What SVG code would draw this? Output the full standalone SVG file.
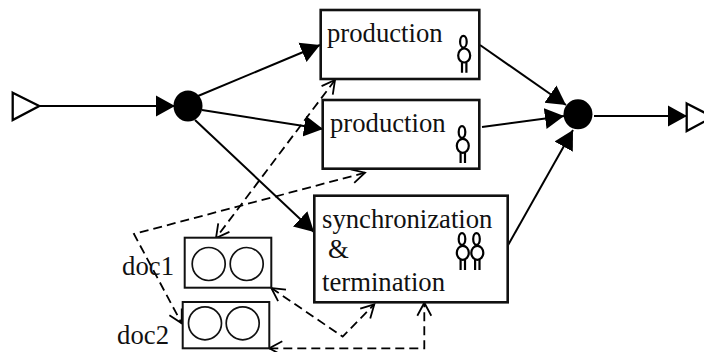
<svg xmlns="http://www.w3.org/2000/svg" width="704" height="352" viewBox="0 0 704 352">
<style>
text{font-family:"Liberation Serif","Times New Roman",serif;font-size:26.7px;fill:#111}
.box{fill:#fff;stroke:#111;stroke-width:2.6}
.doc{fill:#fff;stroke:#111;stroke-width:2}
.ring{fill:none;stroke:#111;stroke-width:1.7}
.dot{fill:#000}
.tri{fill:#fff;stroke:#000;stroke-width:2.3}
.solid{fill:none;stroke:#000;stroke-width:2}
.dash{fill:none;stroke:#000;stroke-width:1.8;stroke-dasharray:9 5;marker-start:url(#open);marker-end:url(#open)}
.p{fill:none;stroke:#000;stroke-width:2.2}
</style>
<defs>
<marker id="fill" markerUnits="userSpaceOnUse" markerWidth="24" markerHeight="24" refX="19" refY="12" orient="auto"><path d="M0 1.500L19 12L0 22.500Z" fill="#000"/></marker>
<marker id="open" markerUnits="userSpaceOnUse" markerWidth="24" markerHeight="24" refX="17" refY="12" orient="auto-start-reverse"><path d="M4 5L17 12L4 19" fill="none" stroke="#000" stroke-width="1.800"/></marker>
<g id="person"><ellipse cx="0" cy="0" rx="3.300" ry="5.800" class="p"/><ellipse cx="0.800" cy="13.800" rx="6" ry="7" class="p"/><path d="M-1.400 21V31M3 21V31" class="p"/></g>
</defs>
<g id="connectors">
<path class="solid" marker-end="url(#fill)" d="M198 96L320 45"/>
<path class="solid" marker-end="url(#fill)" d="M202 110L323 129"/>
<path class="solid" marker-end="url(#fill)" d="M195 120L314 232"/>
<path class="solid" marker-end="url(#fill)" d="M39 106L175 106"/>
<path class="solid" marker-end="url(#fill)" d="M480 45L566 105"/>
<path class="solid" marker-end="url(#fill)" d="M482 127L564 116"/>
<path class="solid" marker-end="url(#fill)" d="M507 247L573 130"/>
<path class="solid" marker-end="url(#fill)" d="M594 116L687 116"/>
<path class="dash" d="M335 80L216 238"/>
<path class="dash" d="M365 172.700L134 234L181.700 323.300"/>
<path class="dash" d="M271.300 288L342.700 336.700L374.300 304.300"/>
<path class="dash" d="M269.300 348.300L424.300 348.300L424.300 302.700"/>
</g>
<g id="start"><path class="tri" d="M12.700 92.700L39.300 106L12.700 120Z"/></g>
<g id="split"><ellipse class="dot" cx="188" cy="106" rx="14.500" ry="15.500"/></g>
<g id="production1"><rect class="box" x="320.700" y="10" width="158.600" height="69"/><text x="327" y="41.700">production</text><use href="#person" x="463.400" y="41.700"/></g>
<g id="production2"><rect class="box" x="322.700" y="100" width="156.600" height="68.700"/><text x="330" y="131.700">production</text><use href="#person" x="462" y="132"/></g>
<g id="sync"><rect class="box" x="314.300" y="195.700" width="193.400" height="106.600"/><text x="322" y="227.700">synchronization</text><text x="328" y="258">&amp;</text><text x="322" y="290.700">termination</text><use href="#person" x="462" y="239"/><use href="#person" x="476.500" y="239"/></g>
<g id="join"><ellipse class="dot" cx="578" cy="114.300" rx="14.500" ry="15"/></g>
<g id="end"><path class="tri" d="M686.700 103.500L713 117L686.700 131Z"/></g>
<g id="doc1"><rect class="doc" x="184.700" y="237.700" width="86.600" height="50"/><circle class="ring" cx="208.700" cy="264" r="16.500"/><circle class="ring" cx="246.700" cy="264" r="16.500"/><text x="174" y="275" text-anchor="end">doc1</text></g>
<g id="doc2"><rect class="doc" x="182.700" y="302" width="86.600" height="46.300"/><circle class="ring" cx="205" cy="323.300" r="16.500"/><circle class="ring" cx="242.700" cy="323.300" r="16.500"/><text x="169" y="344" text-anchor="end">doc2</text></g>
</svg>
